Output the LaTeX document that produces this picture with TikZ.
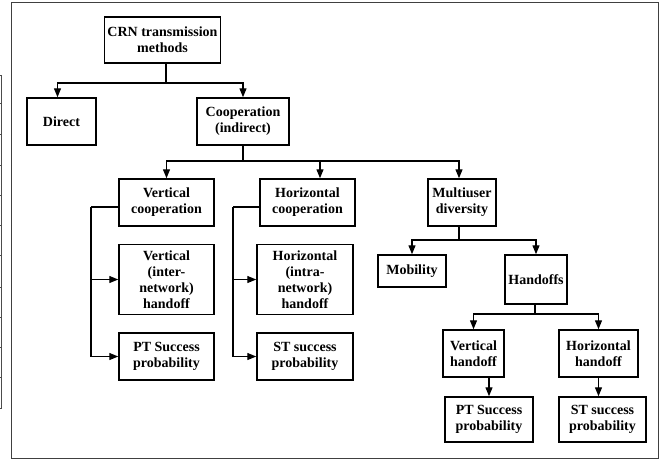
\documentclass[tikz,border=0pt]{standalone}
\usepackage{fontspec}
\setmainfont{Liberation Serif}
\usetikzlibrary{arrows.meta}
\begin{document}
\begin{tikzpicture}[x=1pt,y=-1pt,
  box/.style={draw, line width=1.5pt, align=center, inner sep=0pt,
    font=\fontsize{14}{16}\selectfont\bfseries},
  sz/.style 2 args={minimum width=#1, minimum height=#2},
  conn/.style={line width=1.3pt},
  arr/.style={conn, -{Triangle[length=9pt,width=7pt]}},
  frameline/.style={line width=1pt, black!75},
  artline/.style={line width=0.6pt, black!70}]
\useasboundingbox (0,0) rectangle (671,459);
% page frame and cropped table edge at the left
\draw[frameline] (11,2) rectangle (658,458);
\draw[artline] (1.5,75) -- (1.5,408);
\foreach \yy in {75,103,134,165,195,225,255,287,317,347,377,408}
  \draw[artline] (0,\yy) -- (2,\yy);
% nodes
\node[box, sz={116pt}{46pt}] (crn) at (162.5,40) {CRN transmission\\methods};
\node[box, sz={69pt}{47pt}] (direct) at (61.5,121.5) {Direct};
\node[box, sz={92pt}{47pt}] (coop) at (243,121.5) {Cooperation\\(indirect)};
\node[box, sz={95pt}{47pt}] (vcoop) at (166.5,202.5) {Vertical\\cooperation};
\node[box, sz={95pt}{47pt}] (hcoop) at (307.5,202.5) {Horizontal\\cooperation};
\node[box, sz={68pt}{47pt}] (multi) at (462,202.5) {Multiuser\\diversity};
\node[box, sz={95pt}{70pt}] (vinter) at (166.5,279.5) {Vertical\\(inter-\\network)\\handoff};
\node[box, sz={95pt}{47pt}] (pt1) at (166.5,356.5) {PT Success\\probability};
\node[box, sz={96pt}{70pt}] (hintra) at (305,279.5) {Horizontal\\(intra-\\network)\\handoff};
\node[box, sz={96pt}{47pt}] (st1) at (305,356.5) {ST success\\probability};
\node[box, sz={68pt}{32pt}] (mob) at (412,271) {Mobility};
\node[box, sz={62pt}{49pt}] (hand) at (536,279.5) {Handoffs};
\node[box, sz={61pt}{47pt}] (vhand) at (473.5,353.5) {Vertical\\handoff};
\node[box, sz={79pt}{47pt}] (hhand) at (598.5,353.5) {Horizontal\\handoff};
\node[box, sz={88pt}{45pt}] (pt2) at (489,419.5) {PT Success\\probability};
\node[box, sz={87pt}{45pt}] (st2) at (602.5,419.5) {ST success\\probability};
% connectors
\coordinate (j1) at (166,83);
\draw[conn] (crn.south -| j1) -- (j1);
\draw[arr] (j1) -| ([xshift=-4pt]direct.north);
\draw[arr] (j1) -| (coop.north);
\coordinate (j2) at (243,161);
\draw[conn] (coop.south) -- (j2);
\draw[arr] (j2) -| (vcoop.north);
\draw[arr] (j2) -| ([xshift=12.5pt]hcoop.north);
\draw[arr] (j2) -| ([xshift=-3pt]multi.north);
\coordinate (b1) at (91,207);
\draw[conn] (vcoop.west |- b1) -- (b1);
\draw[arr] (b1) |- (pt1.west);
\draw[arr] (b1 |- vinter.west) -- (vinter.west);
\coordinate (b2) at (233,207);
\draw[conn] (hcoop.west |- b2) -- (b2);
\draw[arr] (b2) |- (st1.west);
\draw[arr] (b2 |- hintra.west) -- (hintra.west);
\coordinate (j3) at (459,240);
\draw[conn] (multi.south -| j3) -- (j3);
\draw[arr] (j3) -| (mob.north);
\draw[arr] (j3) -| (hand.north);
\coordinate (j4) at (535,314);
\draw[conn] (hand.south -| j4) -- (j4);
\draw[arr] (j4) -| (vhand.north);
\draw[arr] (j4) -| (hhand.north);
\draw[arr] (pt2.north |- vhand.south) -- (pt2.north);
\draw[arr] (hhand.south) -- (hhand.south |- st2.north);
\end{tikzpicture}
\end{document}
